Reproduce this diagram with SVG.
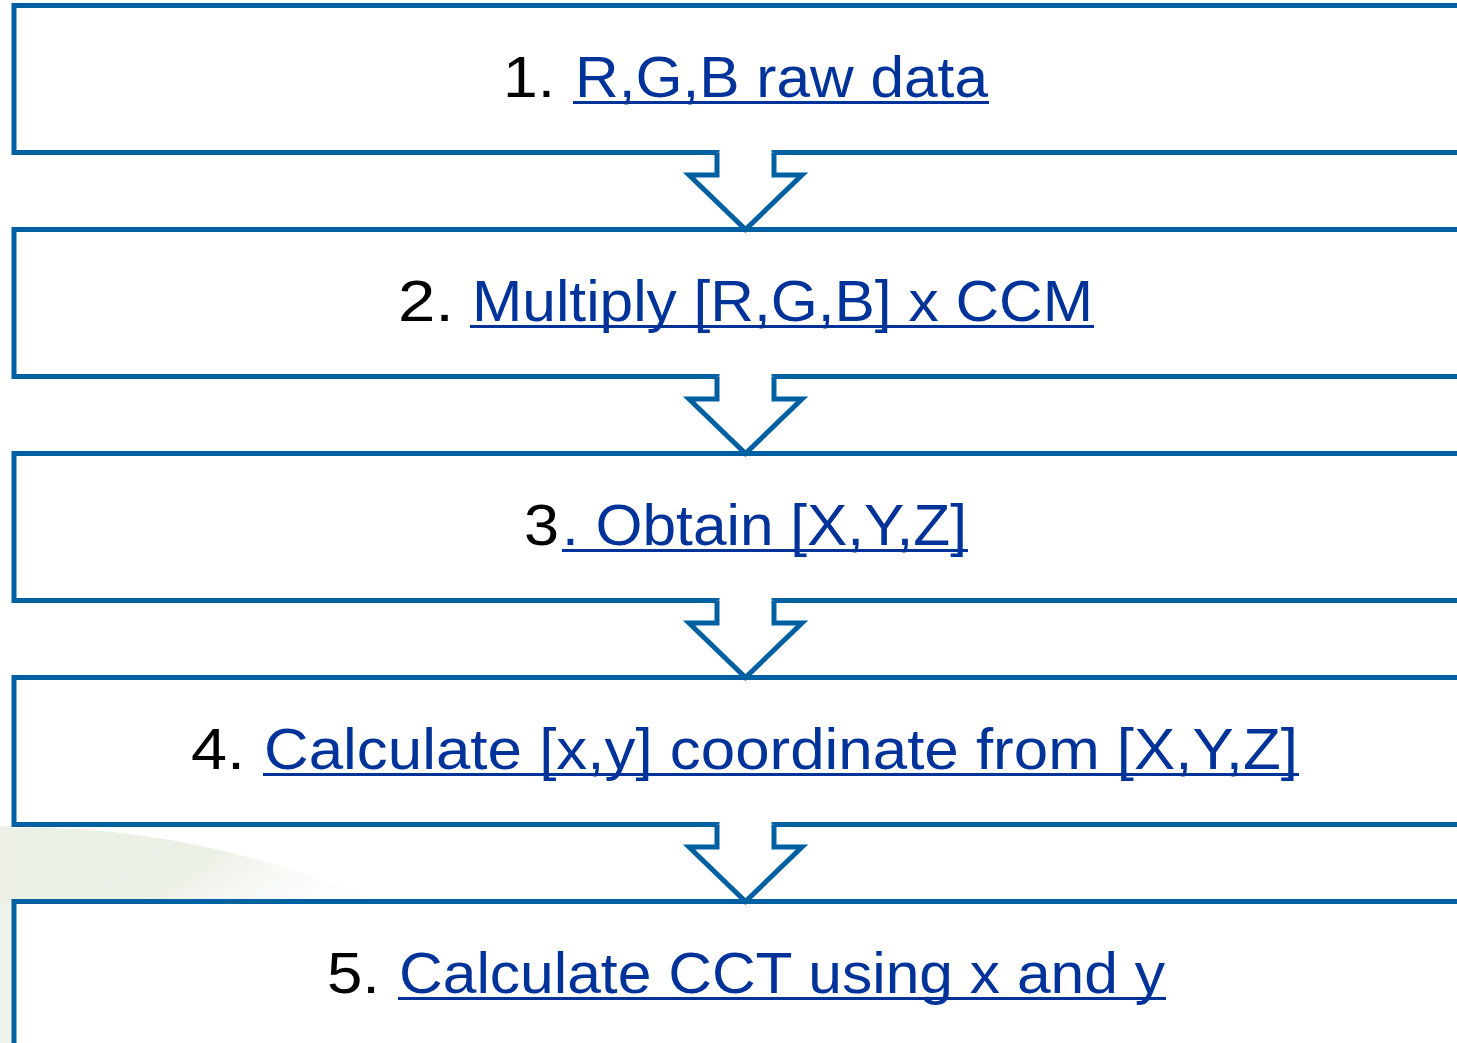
<svg xmlns="http://www.w3.org/2000/svg" width="1457" height="1043" viewBox="0 0 1457 1043">
<defs>
<style>
.box{fill:#ffffff;stroke:#0060a2;stroke-width:5;}
.arr{fill:#ffffff;stroke:#0060a2;stroke-width:5;stroke-linejoin:miter;}
.gap{fill:#ffffff;}
.t{font-family:"Liberation Sans",Arial,sans-serif;font-size:58px;}
.num{fill:#000000;}
.lnk{fill:#003399;}
.ul{stroke:#003399;stroke-width:3;}
</style>
<linearGradient id="sw" x1="0" y1="0" x2="1" y2="0.3">
<stop offset="0" stop-color="#e6ecde" stop-opacity="0.8"/>
<stop offset="0.6" stop-color="#e3eadb" stop-opacity="0.7"/>
<stop offset="1" stop-color="#f4f6f1" stop-opacity="0.2"/>
</linearGradient>
</defs>
<rect x="0" y="0" width="1457" height="1043" fill="#ffffff"/>
<path d="M0,828 Q190,822 385,904 L0,904 Z" fill="url(#sw)"/>
<rect x="0" y="826" width="12" height="217" fill="#ebefe6" opacity="0.8"/>
<g id="node1"><rect class="box" x="14" y="5.5" width="1470" height="147"/>
<text class="t" y="97"><tspan class="num" x="503" textLength="52" lengthAdjust="spacingAndGlyphs">1.</tspan><tspan class="lnk" x="575" textLength="413" lengthAdjust="spacingAndGlyphs">R,G,B raw data</tspan></text>
<line class="ul" x1="573" y1="102.5" x2="989" y2="102.5"/></g>
<g id="node2"><rect class="box" x="14" y="229.5" width="1470" height="147"/>
<text class="t" y="321"><tspan class="num" x="398" textLength="56" lengthAdjust="spacingAndGlyphs">2.</tspan><tspan class="lnk" x="472" textLength="621" lengthAdjust="spacingAndGlyphs">Multiply [R,G,B] x CCM</tspan></text>
<line class="ul" x1="470" y1="326.5" x2="1094" y2="326.5"/></g>
<g id="node3"><rect class="box" x="14" y="453.5" width="1470" height="147"/>
<text class="t" y="545"><tspan class="num" x="524" textLength="35" lengthAdjust="spacingAndGlyphs">3</tspan><tspan class="lnk" x="562" textLength="405" lengthAdjust="spacingAndGlyphs">. Obtain [X,Y,Z]</tspan></text>
<line class="ul" x1="562" y1="550.5" x2="968" y2="550.5"/></g>
<g id="node4"><rect class="box" x="14" y="677.5" width="1470" height="147"/>
<text class="t" y="769"><tspan class="num" x="191" textLength="54" lengthAdjust="spacingAndGlyphs">4.</tspan><tspan class="lnk" x="264" textLength="1034" lengthAdjust="spacingAndGlyphs">Calculate [x,y] coordinate from [X,Y,Z]</tspan></text>
<line class="ul" x1="263" y1="774.5" x2="1299" y2="774.5"/></g>
<g id="node5"><rect class="box" x="14" y="901.5" width="1470" height="200"/>
<text class="t" y="993"><tspan class="num" x="327" textLength="53" lengthAdjust="spacingAndGlyphs">5.</tspan><tspan class="lnk" x="399" textLength="766" lengthAdjust="spacingAndGlyphs">Calculate CCT using x and y</tspan></text>
<line class="ul" x1="398" y1="998.5" x2="1166" y2="998.5"/></g>
<g id="connectors">
<g><rect class="gap" x="719.5" y="149" width="52" height="7"/><path class="arr" d="M717,152.5 V175 H689 L745.5,229.5 L802,175 H774 V152.5"/></g>
<g><rect class="gap" x="719.5" y="373" width="52" height="7"/><path class="arr" d="M717,376.5 V399 H689 L745.5,453.5 L802,399 H774 V376.5"/></g>
<g><rect class="gap" x="719.5" y="597" width="52" height="7"/><path class="arr" d="M717,600.5 V623 H689 L745.5,677.5 L802,623 H774 V600.5"/></g>
<g><rect class="gap" x="719.5" y="821" width="52" height="7"/><path class="arr" d="M717,824.5 V847 H689 L745.5,901.5 L802,847 H774 V824.5"/></g>
</g>
</svg>
